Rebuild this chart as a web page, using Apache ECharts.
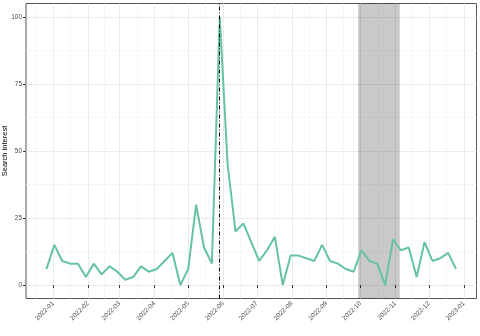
<!DOCTYPE html>
<html><head><meta charset="utf-8">
<script src="https://cdn.jsdelivr.net/npm/echarts@6/dist/echarts.min.js"></script>
<style>html,body{margin:0;padding:0;background:#fff}#c{width:480px;height:336px}</style>
</head><body><div id="c"></div>
<script>
const weeks = ['2021-12-26','2022-01-02','2022-01-09','2022-01-16','2022-01-23','2022-01-30','2022-02-06','2022-02-13','2022-02-20','2022-02-27','2022-03-06','2022-03-13','2022-03-20','2022-03-27','2022-04-03','2022-04-10','2022-04-17','2022-04-24','2022-05-01','2022-05-08','2022-05-15','2022-05-22','2022-05-29','2022-06-05','2022-06-12','2022-06-19','2022-06-26','2022-07-03','2022-07-10','2022-07-17','2022-07-24','2022-07-31','2022-08-07','2022-08-14','2022-08-21','2022-08-28','2022-09-04','2022-09-11','2022-09-18','2022-09-25','2022-10-02','2022-10-09','2022-10-16','2022-10-23','2022-10-30','2022-11-06','2022-11-13','2022-11-20','2022-11-27','2022-12-04','2022-12-11','2022-12-18','2022-12-25'];
const interest = [6,15,9,8,8,3,8,4,7,5,2,3,7,5,6,9,12,0,6,30,14,8,100,45,20,23,16,9,13,18,0,11,11,10,9,15,9,8,6,5,13,9,8,0,17,13,14,3,16,9,10,12,6];
const monthTicks = ['2022-01-01','2022-02-01','2022-03-01','2022-04-01','2022-05-01','2022-06-01','2022-07-01','2022-08-01','2022-09-01','2022-10-01','2022-11-01','2022-12-01','2023-01-01'];
const yTicks = [0,25,50,75,100];
const yMinor = [12.5,37.5,62.5,87.5];
const eventDate = '2022-05-29';
const shadeRange = ['2022-09-29','2022-11-05'];

const DAY = 86400000;
const ts = s => Date.parse(s);
const xMin = ts(weeks[0]) - 18.2*DAY;
const xMax = ts(weeks[weeks.length-1]) + 18.2*DAY;
const majorX = monthTicks.map(ts);
const minorX = [ts('2021-12-01')].concat(majorX).map((v,i,a)=> i<a.length-1 ? (v+a[i+1])/2 : null).filter(v=>v!==null && v>xMin && v<xMax);
const fmt = v => { const d = new Date(v); return d.getUTCFullYear()+'-'+String(d.getUTCMonth()+1).padStart(2,'0'); };

const chart = echarts.init(document.getElementById('c'), null, {renderer:'canvas'});
chart.setOption({
  animation:false,
  grid:{left:26, right:3.5, top:3.5, bottom:37.5, containLabel:false, outerBoundsMode:'none', show:true, borderColor:'#555', borderWidth:1, backgroundColor:'transparent'},
  xAxis:[{
    type:'value', min:xMin, max:xMax,
    axisLine:{show:false}, 
    axisTick:{show:true, customValues:majorX, length:3, lineStyle:{color:'#333', width:1}},
    axisLabel:{customValues:majorX, formatter:fmt, rotate:45, fontSize:6.5, color:'#4d4d4d', fontFamily:'Liberation Sans', margin:4},
    splitLine:{show:true, lineStyle:{color:'#ebebeb', width:1}}
  },{
    type:'value', min:xMin, max:xMax, position:'bottom',
    axisLine:{show:false}, axisTick:{show:false, customValues:minorX}, axisLabel:{show:false, customValues:minorX},
    splitLine:{show:true, lineStyle:{color:'#f5f5f5', width:0.8}}
  }],
  yAxis:[{
    type:'value', min:-5, max:105,
    name:'Search interest', nameLocation:'middle', nameGap:17, nameMoveOverlap:false,
    nameTextStyle:{fontSize:7.5, color:'#000', fontFamily:'Liberation Sans'},
    axisLine:{show:false},
    axisTick:{show:true, customValues:yTicks, length:3, lineStyle:{color:'#333', width:1}},
    axisLabel:{customValues:yTicks, fontSize:6.5, color:'#4d4d4d', fontFamily:'Liberation Sans', margin:4},
    splitLine:{show:true, lineStyle:{color:'#ebebeb', width:1}}
  },{
    type:'value', min:-5, max:105, position:'left',
    axisLine:{show:false}, axisTick:{show:false, customValues:yMinor}, axisLabel:{show:false, customValues:yMinor},
    splitLine:{show:true, lineStyle:{color:'#f5f5f5', width:0.8}}
  }],
  series:[{
    type:'line', z:2, xAxisIndex:0, yAxisIndex:0,
    data: weeks.map((w,i)=>[ts(w), interest[i]]),
    showSymbol:false, lineStyle:{color:'#66C2A5', width:2}, itemStyle:{color:'#66C2A5'}
  },{
    type:'line', z:5, xAxisIndex:0, yAxisIndex:0, data:[], silent:true,
    markArea:{silent:true, itemStyle:{color:'rgba(0,0,0,0.21)'}, data:[[{xAxis:ts(shadeRange[0])},{xAxis:ts(shadeRange[1])}]]},
    markLine:{silent:true, symbol:'none', label:{show:false},
      lineStyle:{color:'#000', width:1, type:[4,2,1,2]},
      data:[{xAxis:ts(eventDate)}]}
  }]
});
</script></body></html>
